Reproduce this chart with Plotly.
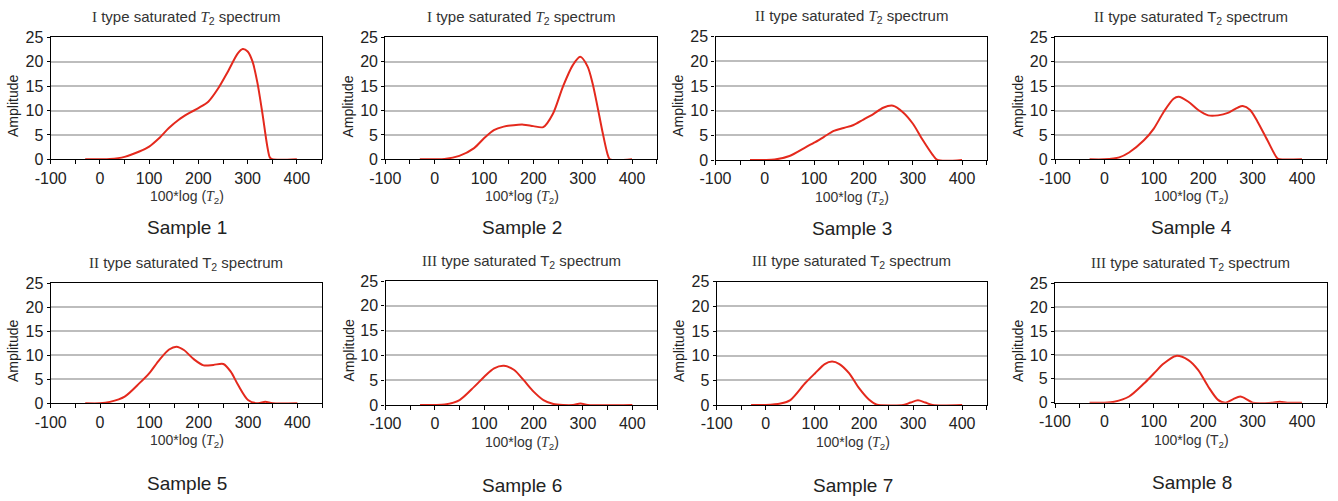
import plotly.graph_objects as go

W, H = 1338, 501

# ---------------- data ----------------
s1_x = [-30, 0, 20, 50, 80, 100, 120, 140, 160, 180, 200, 220, 240, 260, 280, 290, 300, 310, 320, 330, 340, 345, 350, 400]
s1_y = [0, 0, 0.05, 0.5, 1.6, 2.6, 4.3, 6.4, 8.1, 9.4, 10.5, 11.8, 14.5, 18.0, 21.7, 22.6, 22.1, 20.0, 15.6, 9.4, 2.6, 0.4, 0, 0]

s2_x = [-30, 0, 20, 50, 80, 100, 120, 140, 160, 180, 200, 220, 240, 260, 280, 295, 310, 320, 330, 340, 350, 355, 400]
s2_y = [0, 0, 0.05, 0.7, 2.3, 4.3, 6.0, 6.7, 7.0, 7.1, 6.8, 6.6, 9.4, 14.9, 19.3, 21.0, 19.0, 15.6, 10.8, 5.7, 1.2, 0, 0]

s3_x = [-30, 0, 20, 50, 80, 100, 120, 140, 160, 180, 200, 220, 240, 260, 280, 300, 320, 340, 350, 400]
s3_y = [0, 0, 0.1, 0.8, 2.4, 3.5, 4.7, 5.9, 6.5, 7.1, 8.2, 9.3, 10.6, 11.0, 9.7, 7.4, 4.1, 1.1, 0, 0]

s4_x = [-30, 0, 30, 50, 80, 100, 120, 140, 150, 170, 190, 210, 230, 250, 270, 280, 295, 310, 330, 350, 355, 400]
s4_y = [0, 0, 0.4, 1.4, 3.9, 6.3, 9.7, 12.4, 12.8, 11.8, 10.1, 9.0, 9.0, 9.5, 10.6, 10.9, 10.1, 7.7, 3.9, 0.2, 0, 0]

s5_x = [-30, 0, 20, 50, 80, 100, 120, 140, 155, 170, 190, 210, 230, 250, 265, 280, 300, 320, 335, 350, 400]
s5_y = [0, 0, 0.3, 1.4, 4.2, 6.3, 9.0, 11.2, 11.8, 11.1, 9.2, 7.9, 8.0, 8.2, 6.6, 3.8, 0.7, 0, 0.3, 0, 0]

s6_x = [-30, 0, 20, 50, 80, 100, 120, 140, 160, 180, 200, 220, 240, 260, 280, 295, 310, 400]
s6_y = [0, 0, 0.1, 1.0, 3.7, 5.7, 7.4, 7.9, 7.1, 5.0, 2.7, 1.0, 0.2, 0, 0, 0.3, 0, 0]

s7_x = [-30, 0, 30, 50, 80, 100, 120, 135, 150, 170, 190, 210, 225, 230, 280, 295, 310, 325, 340, 400]
s7_y = [0, 0, 0.3, 1.0, 4.4, 6.4, 8.3, 8.8, 8.3, 6.4, 3.4, 1.1, 0.1, 0, 0, 0.5, 0.95, 0.5, 0, 0]

s8_x = [-30, 0, 20, 50, 80, 100, 120, 145, 170, 190, 210, 230, 245, 260, 275, 290, 300, 340, 355, 370, 400]
s8_y = [0, 0, 0.2, 1.3, 4.0, 6.1, 8.2, 9.8, 8.9, 6.8, 3.4, 0.6, 0, 0.7, 1.3, 0.6, 0, 0, 0.2, 0, 0]

series_x = [s1_x, s2_x, s3_x, s4_x, s5_x, s6_x, s7_x, s8_x]
series_y = [s1_y, s2_y, s3_y, s4_y, s5_y, s6_y, s7_y, s8_y]

x_ticks = [-100, 0, 100, 200, 300, 400]
x_ticktext = ["-100", "0", "100", "200", "300", "400"]
x_minor = [-50, 50, 150, 250, 350, 450]
y_ticks = [0, 5, 10, 15, 20, 25]

SERIF = "Liberation Serif"
def roman(r):
    return f"<span style='font-family:{SERIF}'>{r}</span>"
T_IT = f"<span style='font-family:{SERIF}'><i>T</i></span><sub>2</sub>"
T_UP = "T<sub>2</sub>"

titles = [
    f"{roman('I')} type saturated {T_IT} spectrum",
    f"{roman('I')} type saturated {T_IT} spectrum",
    f"{roman('II')} type saturated {T_IT} spectrum",
    f"{roman('II')} type saturated {T_UP} spectrum",
    f"{roman('II')} type saturated {T_UP} spectrum",
    f"{roman('III')} type saturated {T_UP} spectrum",
    f"{roman('III')} type saturated {T_UP} spectrum",
    f"{roman('III')} type saturated {T_UP} spectrum",
]
xtitles = [
    f"100*log ({T_IT})", f"100*log ({T_IT})", f"100*log ({T_IT})", f"100*log ({T_UP})",
    f"100*log ({T_IT})", f"100*log ({T_IT})", f"100*log ({T_IT})", f"100*log ({T_UP})",
]
samples = [f"Sample {i}" for i in range(1, 9)]

# ---------------- layout geometry (pixels) ----------------
boxes = [
    (50.7, 321.5, 37.3, 159.3),
    (385.3, 656.7, 37.3, 159.3),
    (715.5, 986.7, 36.7, 160.0),
    (1055.0, 1326.7, 37.3, 159.3),
    (50.7, 322.0, 283.3, 403.3),
    (385.5, 657.0, 281.0, 405.0),
    (716.7, 986.7, 281.7, 405.0),
    (1055.0, 1326.7, 283.3, 402.7),
]

fig = go.Figure()
FONT = "Liberation Sans"
annotations = []
for i in range(8):
    n = "" if i == 0 else str(i + 1)
    l, r, t, b = boxes[i]
    fig.add_trace(go.Scatter(
        x=series_x[i], y=series_y[i], mode="lines",
        line=dict(color="#e4291d", width=2, shape="spline", smoothing=0.8),
        xaxis="x" + n, yaxis="y" + n, showlegend=False, hoverinfo="skip"))
    fig.layout["xaxis" + n] = dict(
        domain=[l / W, r / W], anchor="y" + n, range=[-100, 450], automargin=False,
        tickvals=x_ticks, ticktext=x_ticktext, ticks="outside", ticklen=4, tickcolor="#000",
        minor=dict(tickvals=x_minor, ticks="outside", ticklen=4, tickcolor="#000"),
        showline=True, linecolor="#000", linewidth=1.3, mirror=True,
        showgrid=False, zeroline=False,
        tickfont=dict(family=FONT, size=16, color="#222"))
    fig.layout["yaxis" + n] = dict(
        domain=[1 - b / H, 1 - t / H], anchor="x" + n, range=[0, 25], automargin=False,
        tickvals=y_ticks, ticks="outside", ticklen=3, tickcolor="#000",
        showline=True, linecolor="#000", linewidth=1.3, mirror=True,
        showgrid=True, gridcolor="#bdbdbd", gridwidth=1.5, zeroline=False,
        tickfont=dict(family=FONT, size=16, color="#222"))
    cx = (l + r) / 2
    row2 = i >= 4
    annotations.append(dict(text=titles[i], x=cx / W, y=1 - (t - 20) / H,
                            font=dict(family=FONT, size=15, color="#333")))
    annotations.append(dict(text=xtitles[i], x=(cx + 1) / W, y=1 - (b + 38) / H,
                            font=dict(family=FONT, size=14, color="#333")))
    annotations.append(dict(text="Amplitude", x=(l - 37) / W, y=1 - ((t + b) / 2 + 8) / H,
                            textangle=-90, font=dict(family=FONT, size=14, color="#222")))
    annotations.append(dict(text=samples[i], x=(cx + 1) / W,
                            y=1 - ((b + 80) if row2 else (b + 68)) / H,
                            font=dict(family=FONT, size=19, color="#222")))

for a in annotations:
    a.update(xref="paper", yref="paper", xanchor="center", yanchor="middle", showarrow=False)

fig.update_layout(width=W, height=H, margin=dict(l=0, r=0, t=0, b=0),
                  paper_bgcolor="white", plot_bgcolor="white",
                  annotations=annotations)

fig.write_html("out.html")
